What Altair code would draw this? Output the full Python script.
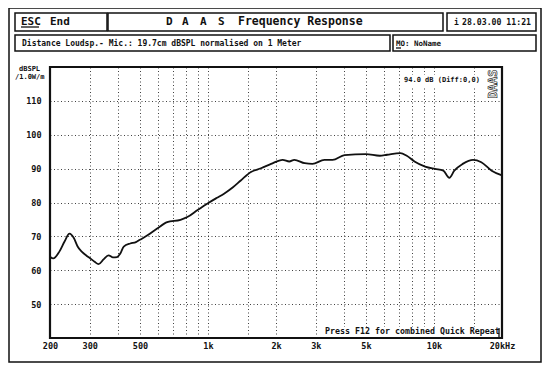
import altair as alt
import pandas as pd

# ---- data ----
freq_hz = [200, 207, 220, 232, 244, 255, 265, 277, 290, 300, 315, 328, 345, 363, 380, 396,
           410, 424, 453, 480, 500, 540, 596, 660, 756, 810, 900, 1000, 1090, 1178, 1290,
           1397, 1549, 1716, 1903, 2140, 2290, 2410, 2680, 2900, 3274, 3560, 4020, 5000,
           5760, 6200, 7100, 7580, 8200, 9140, 10100, 11000, 11700, 12300, 13400, 14900,
           16200, 18000, 20000]
spl_db = [64.0, 63.5, 65.5, 68.5, 70.8, 69.5, 67.0, 65.4, 64.3, 63.6, 62.5, 61.8, 63.2, 64.4,
          63.8, 63.9, 65.0, 67.0, 67.9, 68.3, 69.0, 70.3, 72.3, 74.2, 74.9, 75.7, 77.8, 79.8,
          81.3, 82.6, 84.5, 86.5, 89.0, 90.1, 91.4, 92.6, 92.1, 92.6, 91.6, 91.4, 92.6, 92.6,
          94.0, 94.3, 93.8, 94.1, 94.6, 93.8, 92.1, 90.6, 89.9, 89.4, 87.3, 89.4, 91.4, 92.6,
          91.9, 89.4, 88.0]

x_label_values = [200, 300, 500, 1000, 2000, 3000, 5000, 10000, 20000]
x_label_texts = ["200", "300", "500", "1k", "2k", "3k", "5k", "10k", "20kHz"]
x_grid_values = [200, 300, 400, 500, 600, 700, 800, 900, 1000, 1500, 2000, 3000, 4000,
                 5000, 6000, 7000, 8000, 9000, 10000, 15000, 20000]
y_values = [50, 60, 70, 80, 90, 100, 110]

FONT = "DejaVu Sans Mono"
INK = "#111111"

df = pd.DataFrame({"f": freq_hz, "db": spl_db})

label_expr = " : ".join(f"datum.value == {v} ? '{t}'" for v, t in zip(x_label_values, x_label_texts)) + " : ''"

xs = alt.Scale(type="log", domain=[200, 20000], nice=False)
ys = alt.Scale(domain=[40, 120], nice=False, zero=False)

curve = alt.Chart(df).mark_line(color=INK, strokeWidth=1.8, interpolate="monotone").encode(
    x=alt.X("f:Q", scale=xs, axis=alt.Axis(values=x_grid_values, labelExpr=label_expr,
                                           grid=True, labelPadding=3, title=None)),
    y=alt.Y("db:Q", scale=ys, axis=alt.Axis(values=y_values, format="d", grid=True,
                                            labelPadding=9, title=None)),
)

# ---- screen furniture (pixel layout relative to plot area) ----
boxes = pd.DataFrame({
    "x0": [-41, -35, 58, 397, -35, 343],
    "x1": [491, 57, 393, 486, 340, 486],
    "y0": [-59, -54, -54, -54, -32, -32],
    "y1": [295, -36, -36, -36, -16, -16],
})
frame_boxes = alt.Chart(boxes).mark_rect(filled=False, stroke=INK, strokeWidth=1.5).encode(
    x=alt.X("x0:Q", scale=None), x2="x1:Q", y=alt.Y("y0:Q", scale=None), y2="y1:Q")

white = pd.DataFrame({"x0": [272, 352], "x1": [450, 437], "y0": [260, 8], "y1": [270, 19]})
white_boxes = alt.Chart(white).mark_rect(fill="white", stroke=None).encode(
    x=alt.X("x0:Q", scale=None), x2="x1:Q", y=alt.Y("y0:Q", scale=None), y2="y1:Q")

plot_frame = alt.Chart(pd.DataFrame({"a": [0]})).mark_rect(filled=False, stroke=INK, strokeWidth=2.2).encode(
    x=alt.value(0), x2=alt.value(452), y=alt.value(0), y2=alt.value(271))

rules = pd.DataFrame({"x0": [-29, 346, 449], "x1": [-11, 351, 449], "y0": [-40, -19, 261], "y1": [-40, -19, 271]})
small_rules = alt.Chart(rules).mark_rule(color=INK, strokeWidth=1.3).encode(
    x=alt.X("x0:Q", scale=None), x2="x1:Q", y=alt.Y("y0:Q", scale=None), y2="y1:Q")

texts = pd.DataFrame({
    "t": ["ESC", "End", "D", "A", "A", "S", "Frequency Response", "i", "28.03.00 11:21",
          "Distance Loudsp.- Mic.: 19.7cm dBSPL normalised on 1 Meter", "MO:", "NoName",
          "dBSPL", "/1.0W/m", "94.0 dB (Diff:0,0)", "Press F12 for combined Quick Repeat"],
    "x": [-29, 0, 116, 132, 150, 168, 188, 404, 412, -28, 346, 364, -31, -35, 354, 275],
    "y": [-45, -45, -45, -45, -45, -45, -45, -44, -44, -23, -23, -23, 2, 10, 13, 265],
    "s": [11, 11, 11, 11, 11, 11, 11.5, 8, 8.2, 8, 7.5, 7.5, 7, 7, 7, 8.3],
})
text_layer = alt.Chart(texts).mark_text(align="left", baseline="middle", font=FONT,
                                        fontWeight="bold", color=INK).encode(
    x=alt.X("x:Q", scale=None), y=alt.Y("y:Q", scale=None),
    size=alt.Size("s:Q", scale=None, legend=None), text="t:N")

logo = alt.Chart(pd.DataFrame({"t": ["DAAS"]})).mark_text(
    font=FONT, fontWeight="bold", fontSize=12, angle=270, align="center", baseline="middle",
    fill="white", stroke=INK, strokeWidth=0.6).encode(
    x=alt.value(443), y=alt.value(17), text="t:N")

chart = alt.layer(white_boxes, curve, frame_boxes, plot_frame, small_rules, text_layer, logo).resolve_scale(
    x="independent", y="independent"
).properties(
    width=452, height=271,
    autosize=alt.AutoSizeParams(type="none"),
    padding={"left": 42, "top": 59, "right": 40, "bottom": 28},
    background="white",
).configure_view(stroke=None).configure_axis(
    domain=False, ticks=False, labelFont=FONT, labelFontWeight="bold", labelFontSize=8.5,
    labelColor=INK, gridColor=INK, gridDash=[1, 2.5], gridOpacity=0.8, gridWidth=1,
    labelOverlap=False, labelBound=False, labelFlush=False,
)

chart.save("out.html", embed_options={"renderer": "svg", "actions": False})
